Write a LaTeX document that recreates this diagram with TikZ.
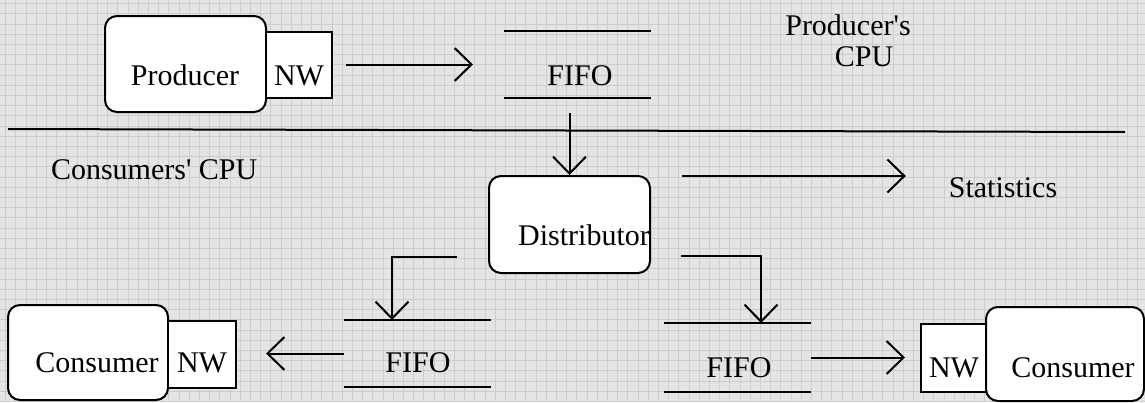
\documentclass[tikz,border=0pt]{standalone}
\usepackage{fontspec}
\setmainfont{Liberation Serif}
\usetikzlibrary{arrows.meta,calc}
\definecolor{bggray}{RGB}{228,228,228}
\definecolor{gridgray}{RGB}{204,204,204}
\begin{document}
\begin{tikzpicture}[x=1pt,y=-1pt,
  line width=2pt,
  roundbox/.style={draw, fill=white, rounded corners=12pt, inner sep=0pt},
  nwbox/.style={draw, fill=white, inner sep=0pt, rounded corners=0pt},
  fifobox/.style={draw=none, inner sep=0pt},
  txt/.style={anchor=base, inner sep=0pt, font=\fontsize{30}{36}\selectfont},
  conn/.style={-{Straight Barb[length=17pt,width=33pt]}},
  gridline/.style={gridgray, line width=0.8pt}
]
\useasboundingbox (0,0) rectangle (1145,402);
\fill[bggray] (0,0) rectangle (1145,402);
\foreach \i in {0,...,111} \draw[gridline] ({5.5+10.2*\i},0) -- ({5.5+10.2*\i},402);
\foreach \j in {0,...,39} \draw[gridline] (0,{3.6+10.2*\j}) -- (1145,{3.6+10.2*\j});

% separator
\coordinate (sepL) at (8,129);
\coordinate (sepR) at (1125,132);
\draw (sepL) -- (sepR);

% producer side
\node[roundbox, minimum width=161pt, minimum height=96pt] (prod) at (185.5,64) {};
\node[nwbox, minimum width=66pt, minimum height=66pt] (prodnw) at (299,65) {};
\node[fifobox, minimum width=145pt, minimum height=65pt] (fifo1) at (577.5,64.5) {};
\draw (fifo1.north west) -- (fifo1.north east);
\draw (fifo1.south west) -- (fifo1.south east);

\node[txt] (tprod) at (185,85) {Producer};
\node[txt] (tprodnw) at (299,85) {NW};
\node[txt] (tfifo1) at (580,85) {FIFO};
\node[txt] (tpcpu1) at (848,35) {Producer\textquotesingle s};
\node[txt] (tpcpu2) at (864,66) {CPU};

\draw[conn, shorten <=13pt, shorten >=31pt] (prodnw.east |- fifo1.west) -- (fifo1.west);

% distributor
\node[roundbox, minimum width=161pt, minimum height=97pt] (dist) at (569.5,224.5) {};
\node[txt] (tdist) at (584,245) {Distributor};
\draw[conn, shorten <=15pt] (dist.north |- fifo1.south) -- (dist.north);

\node[txt] (tstat) at (1003,197) {Statistics};
\node[txt, anchor=base west] (tccpu) at (50,179) {Consumers\textquotesingle{} CPU};
\coordinate (s0) at (682,176);
\draw[conn, shorten >=42pt] (s0) -- (tstat.west |- s0);

% consumers
\node[fifobox, minimum width=145pt, minimum height=65pt] (fifoL) at (417.5,353.5) {};
\draw (fifoL.north west) -- (fifoL.north east);
\draw (fifoL.south west) -- (fifoL.south east);
\node[fifobox, minimum width=145pt, minimum height=67pt] (fifoR) at (737.5,357.5) {};
\draw (fifoR.north west) -- (fifoR.north east);
\draw (fifoR.south west) -- (fifoR.south east);

\coordinate (lb) at (457,257);
\coordinate (rb) at (681,256);
\draw[conn, rounded corners=0pt] (lb) -| ($(fifoL.north west)+(48,0)$);
\draw[conn, rounded corners=0pt] (rb) -| ($(fifoR.north west)+(97,0)$);

\node[roundbox, minimum width=160pt, minimum height=95pt] (consL) at (88,352.5) {};
\node[nwbox, minimum width=68pt, minimum height=67pt] (cnwL) at (202,354.5) {};
\node[nwbox, minimum width=67pt, minimum height=68pt] (cnwR) at (954.5,358) {};
\node[roundbox, minimum width=158pt, minimum height=94pt] (consR) at (1065,354) {};

\node[txt] (tconsL) at (97,372) {Consumer};
\node[txt] (tcnwL) at (202,372) {NW};
\node[txt] (tfifoL) at (418,372) {FIFO};
\node[txt] (tfifoR) at (739,377) {FIFO};
\node[txt] (tcnwR) at (954,377) {NW};
\node[txt] (tconsR) at (1073,377) {Consumer};

\draw[conn, shorten >=29pt] (fifoL.west) -- (cnwL.east |- fifoL.west);
\draw[conn, shorten >=15pt] (fifoR.east) -- (cnwR.west |- fifoR.east);
\end{tikzpicture}
\end{document}
